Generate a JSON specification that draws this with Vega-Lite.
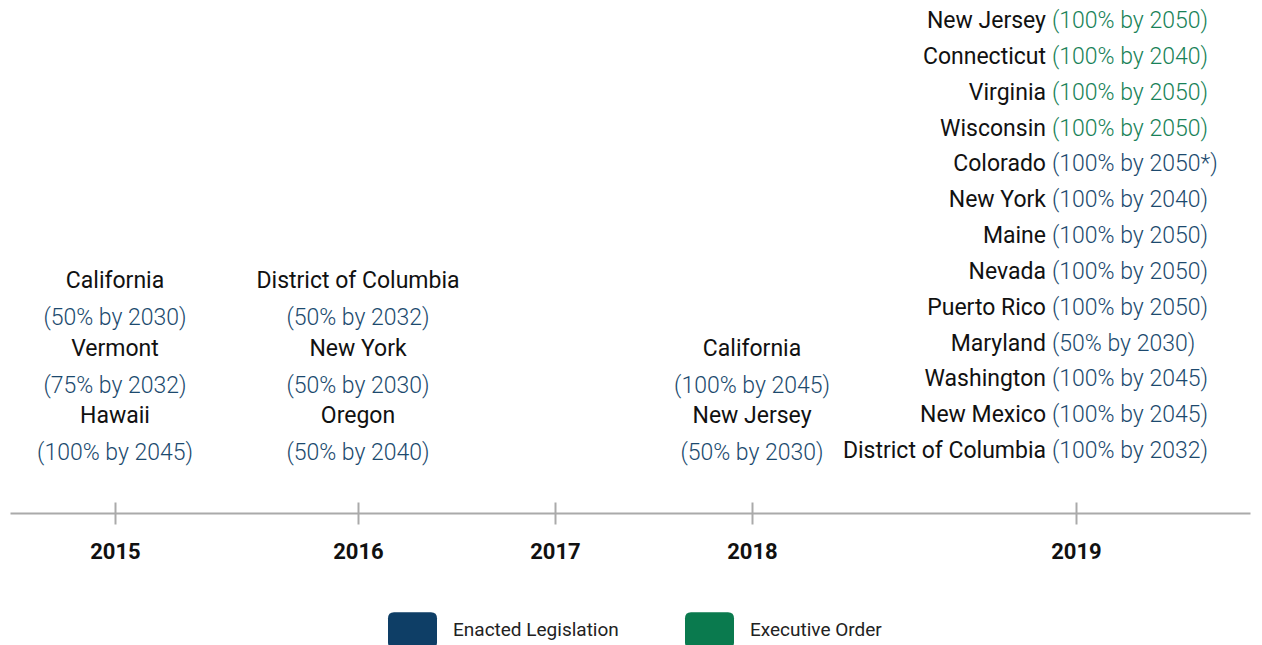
{
  "$schema": "https://vega.github.io/schema/vega-lite/v6.json",
  "width": 1262,
  "height": 513,
  "autosize": {"type": "none"},
  "padding": {"left": 0, "top": 0, "right": 0, "bottom": 132},
  "background": "white",
  "config": {"view": {"stroke": null}},
  "data": {
    "values": [
      {"year": 2015, "stackPos": 2, "state": "California", "target": "(50% by 2030)", "type": "Enacted Legislation"},
      {"year": 2015, "stackPos": 1, "state": "Vermont", "target": "(75% by 2032)", "type": "Enacted Legislation"},
      {"year": 2015, "stackPos": 0, "state": "Hawaii", "target": "(100% by 2045)", "type": "Enacted Legislation"},
      {"year": 2016, "stackPos": 2, "state": "District of Columbia", "target": "(50% by 2032)", "type": "Enacted Legislation"},
      {"year": 2016, "stackPos": 1, "state": "New York", "target": "(50% by 2030)", "type": "Enacted Legislation"},
      {"year": 2016, "stackPos": 0, "state": "Oregon", "target": "(50% by 2040)", "type": "Enacted Legislation"},
      {"year": 2018, "stackPos": 1, "state": "California", "target": "(100% by 2045)", "type": "Enacted Legislation"},
      {"year": 2018, "stackPos": 0, "state": "New Jersey", "target": "(50% by 2030)", "type": "Enacted Legislation"},
      {"year": 2019, "stackPos": 12, "state": "New Jersey", "target": "(100% by 2050)", "type": "Executive Order"},
      {"year": 2019, "stackPos": 11, "state": "Connecticut", "target": "(100% by 2040)", "type": "Executive Order"},
      {"year": 2019, "stackPos": 10, "state": "Virginia", "target": "(100% by 2050)", "type": "Executive Order"},
      {"year": 2019, "stackPos": 9, "state": "Wisconsin", "target": "(100% by 2050)", "type": "Executive Order"},
      {"year": 2019, "stackPos": 8, "state": "Colorado", "target": "(100% by 2050*)", "type": "Enacted Legislation"},
      {"year": 2019, "stackPos": 7, "state": "New York", "target": "(100% by 2040)", "type": "Enacted Legislation"},
      {"year": 2019, "stackPos": 6, "state": "Maine", "target": "(100% by 2050)", "type": "Enacted Legislation"},
      {"year": 2019, "stackPos": 5, "state": "Nevada", "target": "(100% by 2050)", "type": "Enacted Legislation"},
      {"year": 2019, "stackPos": 4, "state": "Puerto Rico", "target": "(100% by 2050)", "type": "Enacted Legislation"},
      {"year": 2019, "stackPos": 3, "state": "Maryland", "target": "(50% by 2030)", "type": "Enacted Legislation"},
      {"year": 2019, "stackPos": 2, "state": "Washington", "target": "(100% by 2045)", "type": "Enacted Legislation"},
      {"year": 2019, "stackPos": 1, "state": "New Mexico", "target": "(100% by 2045)", "type": "Enacted Legislation"},
      {"year": 2019, "stackPos": 0, "state": "District of Columbia", "target": "(100% by 2032)", "type": "Enacted Legislation"}
    ]
  },
  "encoding": {
    "x": {
      "field": "year",
      "type": "quantitative",
      "scale": {
        "domain": [2014.5, 2015, 2016, 2017, 2018, 2019, 2019.5],
        "range": [10, 115, 358, 555, 752, 1076, 1250],
        "nice": false,
        "zero": false
      },
      "axis": {
        "title": null,
        "values": [2015, 2016, 2017, 2018, 2019],
        "format": "d",
        "domainColor": "#aaaaaa",
        "domainWidth": 2,
        "tickColor": "#aaaaaa",
        "tickWidth": 2,
        "tickSize": 11,
        "grid": true,
        "gridColor": "#aaaaaa",
        "gridWidth": 2,
        "gridDash": [11, 1000],
        "labelFont": "Roboto",
        "labelFontSize": 22,
        "labelFontWeight": "bold",
        "labelColor": "#111111",
        "labelPadding": 17,
        "labelOverlap": false,
        "labelFlush": false
      }
    }
  },
  "layer": [
    {
      "transform": [{"filter": "datum.year != 2019"}],
      "encoding": {
        "y": {
          "field": "stackPos",
          "type": "quantitative",
          "scale": {"domain": [-10, 0, 2], "range": [0, 434.5, 299.5], "nice": false, "zero": false},
          "axis": null
        }
      },
      "layer": [
        {
          "mark": {"type": "text", "font": "Roboto", "fontSize": 23, "align": "center", "baseline": "middle", "dy": -18.5, "fill": "#111111"},
          "encoding": {"text": {"field": "state"}}
        },
        {
          "mark": {"type": "text", "font": "Roboto", "fontSize": 23, "fontWeight": 300, "align": "center", "baseline": "middle", "dy": 18.5, "opacity": 0.94},
          "encoding": {
            "text": {"field": "target"},
            "color": {
              "field": "type",
              "type": "nominal",
              "scale": {"domain": ["Enacted Legislation", "Executive Order"], "range": ["#0e3e66", "#0a7a4e"]},
              "legend": {
                "title": null,
                "orient": "none",
                "legendX": 388,
                "legendY": 605.5,
                "direction": "horizontal",
                "padding": 0,
                "symbolType": "M -0.755,-0.735 L 0.755,-0.735 Q 1,-0.735 1,-0.49 L 1,0.49 Q 1,0.735 0.755,0.735 L -0.755,0.735 Q -1,0.735 -1,0.49 L -1,-0.49 Q -1,-0.735 -0.755,-0.735 Z",
                "symbolSize": 2401,
                "symbolStrokeWidth": 0,
                "symbolOpacity": 1,
                "labelFont": "Roboto",
                "labelFontSize": 19,
                "labelColor": "#222222",
                "labelOffset": 16,
                "columnPadding": 66,
                "labelLimit": 400
              }
            }
          }
        }
      ]
    },
    {
      "transform": [{"filter": "datum.year == 2019"}],
      "encoding": {
        "y": {
          "field": "stackPos",
          "type": "quantitative",
          "scale": {"domain": [0, 12], "range": [451, 21], "nice": false, "zero": false},
          "axis": null
        }
      },
      "layer": [
        {
          "mark": {"type": "text", "font": "Roboto", "fontSize": 23, "align": "right", "baseline": "middle", "dx": -30, "fill": "#111111"},
          "encoding": {"text": {"field": "state"}}
        },
        {
          "mark": {"type": "text", "font": "Roboto", "fontSize": 23, "fontWeight": 300, "align": "left", "baseline": "middle", "dx": -24, "opacity": 0.94},
          "encoding": {
            "text": {"field": "target"},
            "color": {
              "field": "type",
              "type": "nominal",
              "scale": {"domain": ["Enacted Legislation", "Executive Order"], "range": ["#0e3e66", "#0a7a4e"]},
              "legend": {
                "title": null,
                "orient": "none",
                "legendX": 388,
                "legendY": 605.5,
                "direction": "horizontal",
                "padding": 0,
                "symbolType": "M -0.755,-0.735 L 0.755,-0.735 Q 1,-0.735 1,-0.49 L 1,0.49 Q 1,0.735 0.755,0.735 L -0.755,0.735 Q -1,0.735 -1,0.49 L -1,-0.49 Q -1,-0.735 -0.755,-0.735 Z",
                "symbolSize": 2401,
                "symbolStrokeWidth": 0,
                "symbolOpacity": 1,
                "labelFont": "Roboto",
                "labelFontSize": 19,
                "labelColor": "#222222",
                "labelOffset": 16,
                "columnPadding": 66,
                "labelLimit": 400
              }
            }
          }
        }
      ]
    }
  ],
  "resolve": {"scale": {"y": "independent"}}
}
